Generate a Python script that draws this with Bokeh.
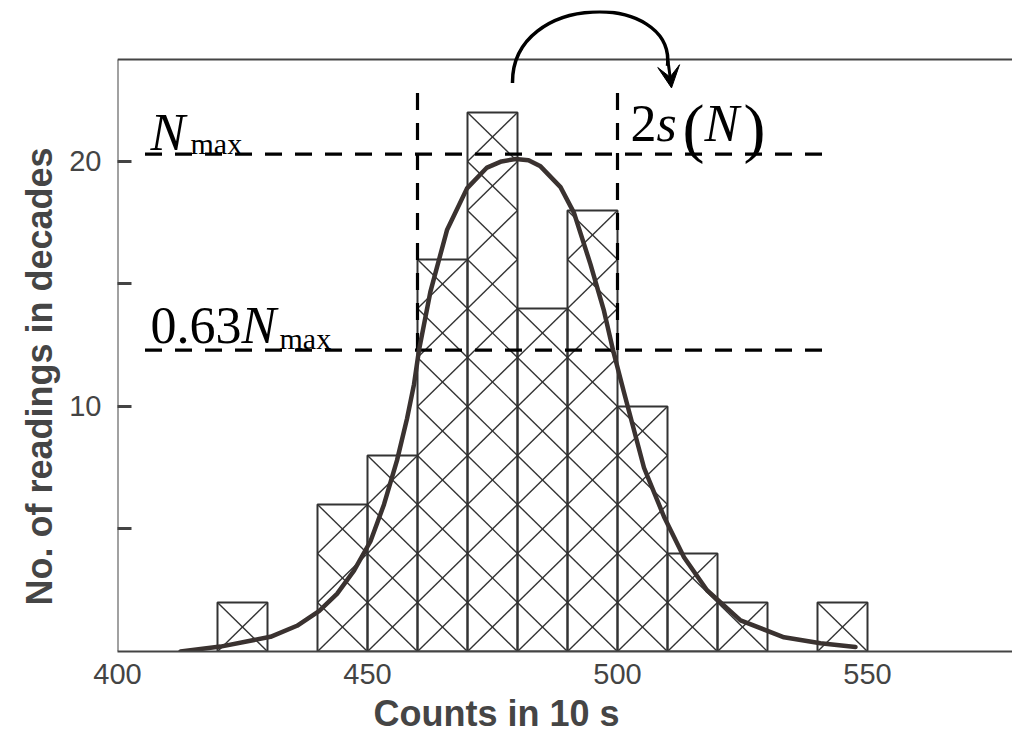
from bokeh.plotting import figure
from bokeh.models import Range1d, FixedTicker, Arrow, VeeHead, Title
from bokeh.core.properties import value
from bokeh.embed import file_html
from bokeh.resources import INLINE

# ---- data ----
bin_left = [420, 440, 450, 460, 470, 480, 490, 500, 510, 520, 540]
bin_width = 10
counts = [2, 6, 8, 16, 22, 14, 18, 10, 4, 2, 2]
cell_height = 2

curve_x = [412.6, 420.6, 430.6, 435.9, 440.3, 443.9, 447.3, 450.6, 453.3, 455.9,
           457.9, 459.3, 460.3, 462.6, 465.9, 469.9, 473.9, 476.8, 479.6, 482.2,
           484.6, 488.6, 491.3, 494.6, 497.3, 499.1, 501.2, 505.3, 509.3, 513.3,
           517.9, 524.6, 533.3, 540.6, 547.6]
curve_y = [0.0, 0.2, 0.6, 1.05, 1.65, 2.35, 3.3, 4.5, 6.0, 7.8,
           9.5, 10.9, 12.3, 14.7, 17.2, 18.9, 19.75, 20.0, 20.1, 20.05,
           19.8, 18.95, 17.9, 15.8, 13.9, 12.3, 10.65, 7.5, 5.5, 3.85,
           2.5, 1.27, 0.58, 0.34, 0.18]

n_max = 20.3
n_063 = 12.3
sigma_lo, sigma_hi = 460, 500
vline_top = 23.0
hline_x = [405.5, 542.0]

x_ticks = [400, 450, 500, 550]
y_ticks = [5, 10, 15, 20]
y_labels = {5: "", 10: "10", 15: "", 20: "20"}
x_title = "Counts in 10 s"
y_title = "No. of readings in decades"

x_start, x_end = 400, 579.0
y_end = 26.16
frame_top = 24.16

ink = "#333333"

p = figure(width=1012, height=743, x_range=Range1d(x_start, x_end), y_range=Range1d(0, y_end),
           min_border_left=117, min_border_right=0, min_border_top=10, min_border_bottom=92,
           outline_line_color=None, toolbar_location=None, output_backend="svg",
           background_fill_color="white", border_fill_color="white")
p.xgrid.visible = False
p.ygrid.visible = False

# axes
xa = p.xaxis[0]
xa.ticker = FixedTicker(ticks=x_ticks)
xa.major_tick_in = 0
xa.major_tick_out = 0
xa.minor_tick_line_color = None
xa.axis_line_color = "#444444"
xa.axis_line_width = 2
xa.major_label_text_font = "Liberation Sans"
xa.major_label_text_font_size = "29px"
xa.major_label_text_color = "#444444"
xa.major_label_standoff = 12

ya = p.yaxis[0]
ya.ticker = FixedTicker(ticks=y_ticks)
ya.major_label_overrides = y_labels
ya.major_tick_in = 14
ya.major_tick_out = 0
ya.major_tick_line_width = 3
ya.major_tick_line_color = "#444444"
ya.minor_tick_line_color = None
ya.axis_line_color = None
ya.major_label_text_font = "Liberation Sans"
ya.major_label_text_font_size = "29px"
ya.major_label_text_color = "#444444"
ya.major_label_standoff = 16

# axis titles, placed off-centre as in the original
p.add_layout(Title(text=x_title, align="left", offset=256, standoff=8, text_font="Liberation Sans",
                   text_font_style="bold", text_font_size="36px", text_color="#454545"), "below")
p.add_layout(Title(text=y_title, align="left", offset=46, standoff=13, text_font="Liberation Sans",
                   text_font_style="bold", text_font_size="36px", text_color="#454545"), "left")

# frame: left edge and top edge
p.segment(x0=[x_start, x_start], y0=[0, frame_top], x1=[x_start, x_end], y1=[frame_top, frame_top],
          line_color="#444444", line_width=2)

# histogram bars
bin_right = [l + bin_width for l in bin_left]
p.quad(left=bin_left, right=bin_right, bottom=[0] * len(counts), top=counts,
       fill_color=None, line_color=ink, line_width=2)

# cross hatching: an X in every 10 x 2 cell
dx0, dy0, dx1, dy1 = [], [], [], []
for l, c in zip(bin_left, counts):
    k = 0
    while k < c:
        dx0 += [l, l]
        dy0 += [k, k + cell_height]
        dx1 += [l + bin_width, l + bin_width]
        dy1 += [k + cell_height, k]
        k += cell_height
p.segment(x0=dx0, y0=dy0, x1=dx1, y1=dy1, line_color=ink, line_width=1.4)

# dashed guide lines
p.segment(x0=[hline_x[0], hline_x[0]], y0=[n_max, n_063], x1=[hline_x[1], hline_x[1]], y1=[n_max, n_063],
          line_color="black", line_width=3.4, line_dash="17 13")
p.segment(x0=[sigma_lo, sigma_hi], y0=[n_063, n_063], x1=[sigma_lo, sigma_hi], y1=[vline_top, vline_top],
          line_color="black", line_width=3.2, line_dash="17 13")

# fitted curve
p.line(curve_x, curve_y, line_color="#3a3230", line_width=4.5, line_join="round", line_cap="round")

# curved arrow
p.bezier(x0=[479.0], y0=[23.2], x1=[510.0], y1=[23.9], cx0=[478.8], cy0=[26.95], cx1=[511.6], cy1=[26.95],
         line_color="black", line_width=3.5)
p.add_layout(Arrow(end=VeeHead(size=22, fill_color="black", line_color="black", line_width=1),
                   x_start=510.1, y_start=24.1, x_end=510.8, y_end=23.0,
                   line_color="black", line_width=3))

serif = value("Liberation Serif")
# N_max
p.text(x=[406.6], y=[21.2], text=["N"], text_font=serif, text_font_size="52px",
       text_font_style="italic", text_baseline="alphabetic", text_color="black")
p.text(x=[414.6, 432.4], y=[20.73, 12.78], text=["max", "max"], text_font=serif, text_font_size="30px",
       text_baseline="alphabetic", text_color="black")
# 0.63 N_max
p.text(x=[406.6], y=[13.3], text=["0.63"], text_font=serif, text_font_size="52px",
       text_baseline="alphabetic", text_color="black")
p.text(x=[424.8], y=[13.3], text=["N"], text_font=serif, text_font_size="52px",
       text_font_style="italic", text_baseline="alphabetic", text_color="black")
# 2s(N)
p.text(x=[502.6], y=[21.55], text=["2"], text_font=serif, text_font_size="52px",
       text_baseline="alphabetic", text_color="black")
p.text(x=[507.8, 517.4], y=[21.55, 21.55], text=["s", "N"], text_font=serif, text_font_size="52px",
       text_font_style="italic", text_baseline="alphabetic", text_color="black")
p.text(x=[513.0, 525.2], y=[21.39, 21.39], text=["(", ")"], text_font=serif, text_font_size="66px",
       text_baseline="alphabetic", text_color="black")

open("out.html", "w").write(file_html(p, INLINE))
